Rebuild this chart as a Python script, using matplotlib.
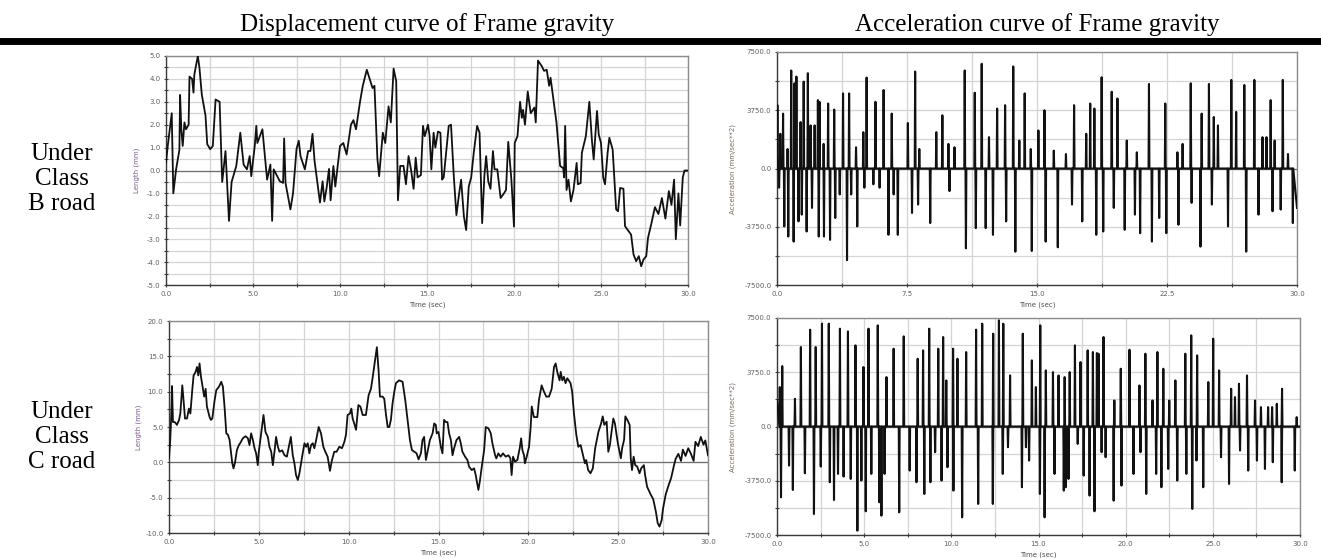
import matplotlib
matplotlib.use("Agg")
import matplotlib.pyplot as plt
from matplotlib.lines import Line2D
from matplotlib.ticker import MultipleLocator, FormatStrFormatter

# ---- data ----
headers = ["Displacement curve of Frame gravity", "Acceleration curve of Frame gravity"]
row_labels = ["Under\nClass\nB road", "Under\nClass\nC road"]

# class B road, displacement (time s, length mm)
disp_b = [(0, 0.34), (0.1, 1.07), (0.33, 2.5), (0.42, -1.0), (0.58, 0.05), (0.77, 0.9), (0.81, 3.3),
          (0.88, 1.8), (0.96, 1.07), (1.06, 2.1), (1.15, 1.8), (1.3, 2.0), (1.35, 4.1), (1.5, 4.0),
          (1.58, 3.4), (1.63, 4.2), (1.83, 5.0), (1.92, 4.5), (2.06, 3.3), (2.27, 2.4), (2.37, 1.15),
          (2.54, 0.93), (2.69, 1.07), (2.85, 3.1), (3.08, 3.0), (3.23, -0.5), (3.42, 0.85), (3.62, -2.2),
          (3.77, -0.5), (4.04, 0.2), (4.27, 1.65), (4.46, 0.26), (4.65, 0.05), (4.81, 0.63), (4.9, -0.25),
          (5.1, 1.07), (5.19, 1.95), (5.25, 1.2), (5.54, 1.8), (5.81, -0.4), (6.0, 0.26), (6.1, -2.2),
          (6.19, 0.05), (6.54, -0.47), (6.73, -0.54), (6.79, 1.4), (6.87, -0.55), (7.15, -1.7),
          (7.3, -1.0), (7.5, 0.93), (7.63, 1.3), (7.73, 0.63), (7.98, 0.05), (8.17, 0.85), (8.3, 0.85),
          (8.42, 1.6), (8.54, 0.4), (8.85, -1.4), (9.0, -0.47), (9.1, -1.35), (9.23, -0.76), (9.37, 0.07),
          (9.46, -1.3), (9.62, 0.2), (9.73, -0.7), (10.0, 1.07), (10.19, 1.2), (10.38, 0.7), (10.63, 2.0),
          (10.77, 2.2), (10.92, 1.8), (11.15, 3.0), (11.31, 3.7), (11.54, 4.4), (11.87, 3.6), (11.98, 3.7),
          (12.15, 0.5), (12.25, -0.25), (12.46, 1.65), (12.6, 1.2), (12.79, 2.8), (12.92, 2.1),
          (13.08, 4.45), (13.23, 3.9), (13.33, -1.3), (13.46, 0.2), (13.65, 0.2), (13.79, -0.6),
          (13.94, 0.63), (14.08, 0.05), (14.23, -0.8), (14.35, 0.56), (14.46, -0.3), (14.65, -0.2),
          (14.77, 1.95), (14.87, 1.5), (15.06, 2.0), (15.15, 1.5), (15.25, 0.05), (15.38, 1.65),
          (15.48, 1.0), (15.63, 1.7), (15.77, 1.65), (15.87, -0.4), (15.96, -0.3), (16.25, 1.95),
          (16.38, 2.0), (16.54, -0.25), (16.69, -1.95), (16.83, -1.1), (16.96, -0.4), (17.12, -2.0),
          (17.25, -2.6), (17.4, -0.7), (17.54, -0.3), (17.69, 0.8), (17.88, 1.95), (18.02, 1.65),
          (18.17, -2.3), (18.3, -0.2), (18.4, 0.63), (18.52, -0.47), (18.65, -0.8), (18.79, 0.85),
          (18.88, 0.05), (19.04, 0.05), (19.23, -1.2), (19.42, -1.0), (19.54, -0.85), (19.67, 1.25),
          (19.85, -0.4), (20.0, -2.45), (20.04, 1.2), (20.2, 1.5), (20.35, 3.0), (20.45, 2.3),
          (20.52, 2.65), (20.63, 2.0), (20.79, 3.45), (20.96, 2.5), (21.17, 2.75), (21.25, 2.1),
          (21.38, 4.8), (21.6, 4.55), (21.73, 4.35), (21.88, 4.4), (22.02, 3.7), (22.1, 4.05),
          (22.44, 2.1), (22.65, 0.2), (22.83, 0.1), (22.88, -0.3), (22.94, 1.95), (23.02, -0.85),
          (23.13, -0.4), (23.27, -1.35), (23.42, -0.85), (23.6, 0.33), (23.67, -0.6), (23.83, -0.55),
          (23.9, 0.77), (24.13, 1.5), (24.33, 3.0), (24.48, 1.3), (24.58, 0.48), (24.77, 2.6),
          (24.87, 1.57), (25.0, 1.2), (25.13, -0.32), (25.23, -0.6), (25.38, 0.77), (25.48, 1.43),
          (25.67, 0.92), (25.87, -1.7), (25.98, -1.78), (26.1, -0.76), (26.29, -0.8), (26.38, -2.43),
          (26.73, -2.8), (26.87, -3.67), (27.02, -3.96), (27.17, -3.74), (27.31, -4.18), (27.44, -3.89),
          (27.6, -3.74), (27.7, -2.95), (27.9, -2.3), (28.1, -1.6), (28.3, -1.9), (28.5, -1.2),
          (28.7, -2.1), (28.9, -0.9), (29.05, -1.5), (29.2, -0.4), (29.3, -3.0), (29.45, -1.0),
          (29.55, -2.4), (29.7, -0.3), (29.8, 0.0), (30.0, 0.0)]

# class C road, displacement
disp_c = [(0, 0.56), (0.07, 3.2), (0.13, 6.9), (0.17, 10.8), (0.22, 5.7), (0.32, 5.7), (0.44, 5.3),
          (0.56, 6.0), (0.63, 6.9), (0.74, 10.9), (0.81, 8.8), (0.89, 6.2), (1.0, 6.2), (1.11, 7.6),
          (1.19, 6.9), (1.3, 10.4), (1.37, 12.3), (1.48, 12.8), (1.56, 13.5), (1.63, 12.3), (1.7, 14.0),
          (1.78, 12.1), (1.89, 10.4), (1.96, 9.3), (2.04, 10.4), (2.11, 7.9), (2.26, 6.4), (2.33, 6.0),
          (2.41, 6.2), (2.54, 8.8), (2.63, 10.2), (2.78, 10.7), (2.91, 11.4), (3.0, 10.7), (3.09, 7.9),
          (3.19, 4.1), (3.28, 3.9), (3.37, 3.2), (3.52, -0.1), (3.59, -0.85), (3.67, -0.1), (3.78, 1.74),
          (3.89, 2.45), (3.96, 2.7), (4.11, 3.4), (4.26, 3.7), (4.39, 3.4), (4.48, 2.45), (4.57, 4.1),
          (4.67, 3.15), (4.76, 2.0), (4.85, 1.27), (4.94, -0.4), (5.0, 1.5), (5.13, 4.1), (5.26, 6.7),
          (5.37, 4.3), (5.5, 3.6), (5.59, 2.2), (5.69, 1.5), (5.78, -0.4), (5.87, 1.5), (5.96, 3.6),
          (6.06, 2.2), (6.15, 1.5), (6.3, 1.7), (6.43, 1.0), (6.56, 0.8), (6.67, 2.2), (6.78, 3.6),
          (6.89, 1.0), (6.98, -0.14), (7.07, -1.8), (7.17, -2.5), (7.26, -1.55), (7.41, 0.8),
          (7.54, 2.7), (7.63, 2.2), (7.72, 2.7), (7.81, 1.27), (7.91, 2.45), (8.0, 2.7), (8.09, 2.0),
          (8.19, 3.15), (8.33, 5.0), (8.46, 4.1), (8.59, 2.2), (8.7, 1.5), (8.83, 0.8), (8.96, -1.2),
          (9.07, 0.33), (9.2, 1.5), (9.33, 1.5), (9.48, 2.2), (9.63, 2.0), (9.76, 2.9), (9.85, 3.9),
          (9.94, 6.7), (10.07, 6.9), (10.15, 7.6), (10.22, 6.2), (10.31, 5.5), (10.41, 4.6),
          (10.54, 8.1), (10.65, 7.9), (10.78, 6.7), (10.96, 6.7), (11.11, 9.5), (11.24, 10.4),
          (11.33, 11.9), (11.48, 14.7), (11.57, 16.3), (11.67, 12.8), (11.74, 9.3), (11.89, 9.3),
          (11.98, 9.0), (12.07, 6.9), (12.17, 5.0), (12.26, 5.0), (12.35, 6.0), (12.44, 8.3),
          (12.54, 10.0), (12.63, 11.2), (12.72, 11.4), (12.81, 11.6), (13.0, 11.4), (13.15, 8.8),
          (13.28, 6.0), (13.41, 3.15), (13.52, 1.74), (13.65, 1.5), (13.78, 1.27), (13.89, 0.42),
          (14.02, 1.27), (14.11, 3.15), (14.2, 3.6), (14.3, 0.33), (14.39, 1.5), (14.52, 3.15),
          (14.67, 4.1), (14.76, 5.5), (14.85, 5.3), (14.9, 4.1), (15.0, 4.3), (15.13, 2.2),
          (15.22, 1.27), (15.31, 6.0), (15.41, 5.7), (15.5, 5.7), (15.59, 4.1), (15.69, 3.15),
          (15.78, 1.0), (15.87, 2.0), (16.0, 3.15), (16.15, 3.6), (16.24, 2.7), (16.33, 1.5),
          (16.48, 0.8), (16.61, 0.33), (16.7, -0.6), (16.85, -1.1), (16.98, -0.85), (17.07, -1.8),
          (17.17, -3.2), (17.22, -3.9), (17.3, -2.7), (17.41, -0.6), (17.54, 1.74), (17.63, 5.0),
          (17.78, 4.8), (17.91, 4.1), (18.0, 2.7), (18.15, 1.0), (18.22, 0.56), (18.33, 1.27),
          (18.46, 0.8), (18.59, 1.27), (18.74, 0.8), (18.89, 1.0), (19.0, 0.56), (19.07, -1.8),
          (19.15, 0.8), (19.26, 0.1), (19.39, 0.33), (19.52, 2.0), (19.6, 3.4), (19.67, 1.74),
          (19.76, 1.0), (19.81, -0.14), (19.91, 0.8), (20.04, 2.2), (20.13, 5.0), (20.19, 7.9),
          (20.31, 6.4), (20.5, 6.4), (20.59, 8.8), (20.74, 10.9), (20.87, 10.0), (21.0, 9.3),
          (21.15, 9.3), (21.3, 10.4), (21.43, 13.5), (21.52, 14.0), (21.61, 12.8), (21.74, 11.6),
          (21.8, 12.8), (21.89, 11.6), (21.98, 12.1), (22.07, 11.2), (22.17, 11.9), (22.35, 11.2),
          (22.44, 10.0), (22.54, 6.9), (22.67, 3.9), (22.78, 2.2), (22.91, 2.45), (23.0, 1.5),
          (23.15, -0.14), (23.22, 0.33), (23.33, -1.1), (23.46, -1.55), (23.59, -0.85), (23.72, 2.0),
          (23.9, 4.3), (24.05, 5.5), (24.14, 6.5), (24.23, 5.3), (24.36, 5.75), (24.45, 1.5),
          (24.54, 2.45), (24.63, 4.3), (24.73, 6.2), (24.82, 5.5), (24.91, 3.9), (25.0, 2.45),
          (25.15, 0.57), (25.22, 2.0), (25.33, 3.2), (25.4, 6.5), (25.51, 6.0), (25.64, 5.3),
          (25.7, 0.57), (25.77, -1.1), (25.86, 0.8), (25.95, -0.4), (26.06, -0.6), (26.19, -1.55),
          (26.28, -0.85), (26.43, -0.4), (26.5, -1.8), (26.61, -3.45), (26.8, -4.5), (26.95, -5.2),
          (27.1, -7.0), (27.2, -8.6), (27.3, -9.1), (27.42, -8.2), (27.5, -6.5), (27.65, -4.5),
          (27.8, -3.3), (27.95, -2.2), (28.1, -0.5), (28.2, 0.5), (28.35, 1.2), (28.5, 0.2),
          (28.6, 1.8), (28.75, 0.9), (28.9, 2.0), (29.05, 1.2), (29.2, 0.2), (29.3, 2.9),
          (29.45, 2.3), (29.6, 3.6), (29.75, 2.5), (29.85, 3.1), (30.0, 1.0)]

# class B road, acceleration spikes (time s, peak mm/sec^2)
acc_b_start = 4000
acc_b_up = [(0.02, 4076), (0.19, 2233), (0.35, 3534), (0.61, 1257), (0.82, 6309), (1.01, 5485),
            (1.12, 5919), (1.36, 2991), (1.54, 5593), (1.78, 6135), (1.94, 2775), (2.17, 2775),
            (2.36, 4401), (2.45, 4293), (2.69, 1583), (2.95, 4184), (3.30, 3794), (3.81, 4835),
            (4.16, 4835), (4.56, 1366), (4.98, 2341), (5.17, 5854), (5.68, 4293), (6.15, 5051),
            (6.62, 3534), (7.55, 2927), (7.97, 6244), (8.21, 1257), (9.19, 2341), (9.54, 3425),
            (9.89, 1583), (10.24, 1366), (10.83, 6309), (11.41, 4878), (11.81, 6742), (12.23, 2016),
            (12.70, 3859), (13.16, 4076), (13.63, 6569), (13.98, 1799), (14.29, 4835), (14.64, 1257),
            (15.08, 2450), (15.43, 3751), (15.97, 1149), (16.67, 932), (17.14, 4076), (17.84, 2233),
            (18.07, 4184), (18.31, 3859), (18.73, 5875), (19.31, 4943), (19.64, 4509), (20.18, 1799),
            (20.76, 1041), (21.46, 5442), (22.40, 4184), (23.10, 1041), (23.40, 1583), (23.87, 5485),
            (24.50, 3534), (24.92, 5442), (25.20, 3317), (25.44, 2775), (26.21, 5702), (26.49, 3642),
            (26.96, 5377), (27.54, 5702), (28.01, 2016), (28.24, 2016), (28.48, 4401), (28.71, 1799),
            (29.18, 5702), (29.48, 932)]
acc_b_down = [(0.12, -1236), (0.42, -3729), (0.65, -4380), (0.96, -4705), (1.24, -3404), (1.43, -2970),
              (1.71, -4054), (2.02, -2537), (2.41, -4380), (2.71, -4380), (3.06, -4596), (3.36, -3187),
              (3.62, -1669), (4.04, -5897), (4.28, -1669), (4.63, -3729), (5.04, -1236), (5.56, -1019),
              (5.92, -1236), (6.43, -4271), (6.73, -1669), (6.97, -4271), (7.79, -2862), (8.14, -2320),
              (8.84, -3512), (9.95, -1453), (10.90, -5138), (11.47, -3838), (12.04, -3838),
              (12.46, -4271), (13.22, -3404), (13.75, -5355), (14.70, -5311), (15.50, -4705),
              (16.20, -5073), (17.02, -2320), (17.61, -3404), (18.42, -4271), (18.82, -4054),
              (19.43, -2537), (20.06, -3946), (20.65, -2970), (20.95, -4163), (21.63, -4705),
              (22.05, -3187), (22.46, -4163), (23.16, -3620), (23.92, -2211), (24.43, -5030),
              (25.09, -2320), (26.02, -3729), (27.07, -5355), (27.78, -2970), (28.59, -2753),
              (29.06, -2645), (29.76, -3512)]
acc_b_end = -2537

# class C road, acceleration spikes
acc_c_start = 1800
acc_c_up = [(0.16, 2723), (0.30, 4177), (1.03, 1916), (1.37, 5493), (1.90, 6693), (2.22, 5493),
            (2.58, 7108), (2.97, 7108), (3.61, 6762), (4.07, 6578), (4.50, 5608), (4.96, 4108),
            (5.25, 6762), (5.78, 6992), (6.28, 3416), (6.69, 5378), (7.27, 6232), (8.07, 4685),
            (8.38, 5262), (8.73, 6762), (9.25, 5378), (9.53, 6185), (9.71, 3185), (10.10, 5378),
            (10.35, 4685), (10.85, 5147), (11.42, 6693), (11.77, 7108), (12.40, 6416), (12.73, 7339),
            (12.98, 7108), (13.37, 3531), (14.10, 6416), (14.62, 4570), (14.85, 2723), (15.10, 6993),
            (15.42, 3877), (15.83, 3762), (16.15, 3531), (16.50, 3416), (16.79, 3762), (17.09, 5608),
            (17.41, 4454), (17.82, 5262), (18.12, 5147), (18.35, 5077), (18.44, 5031), (18.73, 6185),
            (19.35, 1800), (19.72, 3993), (20.22, 5308), (20.79, 2839), (21.13, 5031), (21.54, 1800),
            (21.82, 5147), (22.16, 3993), (22.50, 1800), (22.85, 3185), (23.42, 5031), (23.76, 6300),
            (24.10, 4916), (24.74, 3070), (25.02, 6070), (25.36, 3877), (26.05, 2608), (26.27, 2031),
            (26.50, 2954), (26.96, 3531), (27.42, 1800), (27.76, 1339), (28.17, 1339), (28.40, 1339),
            (28.67, 1569), (28.97, 2608), (29.81, 646)]
acc_c_down = [(0.23, -4893), (0.69, -2700), (0.91, -4385), (1.60, -3231), (2.12, -6047), (2.51, -2770),
              (3.03, -3854), (3.27, -5078), (3.50, -3277), (3.82, -3462), (4.23, -3624), (4.61, -7201),
              (4.84, -3739), (5.09, -5862), (5.41, -3277), (5.87, -5239), (5.99, -6162), (6.17, -3277),
              (7.01, -5931), (7.61, -3046), (8.00, -3854), (8.45, -4662), (8.80, -3854), (9.07, -1777),
              (9.44, -3739), (9.78, -2816), (10.12, -4431), (10.62, -6278), (11.54, -5354),
              (12.38, -5354), (12.95, -3277), (13.25, -1431), (14.05, -4200), (14.28, -1431),
              (14.46, -2354), (15.08, -4662), (15.35, -6278), (15.92, -3277), (16.45, -4431),
              (16.56, -4200), (16.72, -3624), (17.25, -1200), (17.59, -3393), (17.93, -4777),
              (18.21, -5862), (18.62, -1777), (18.85, -2123), (19.31, -5123), (19.76, -4085),
              (20.45, -3277), (20.85, -1777), (21.18, -4662), (21.75, -3277), (22.05, -4200),
              (22.44, -2931), (22.96, -3739), (23.48, -3277), (23.82, -5700), (24.06, -2354),
              (24.45, -4200), (25.47, -2123), (25.93, -3970), (26.56, -1662), (27.03, -3046),
              (27.53, -2354), (27.99, -2931), (28.44, -2470), (28.95, -3854), (29.70, -3046)]
acc_c_end = 0


def spike_line(start, ups, downs, end, half=0.025):
    xs, ys = [0.0], [start]
    for t, a in sorted(ups + downs):
        xs += [max(t - half, 0), t, t + half]
        ys += [0, a, 0]
    xs.append(30.0)
    ys.append(end)
    return xs, ys


W, H = 1321, 558
fig = plt.figure(figsize=(W / 100, H / 100), dpi=100)


def box(x0, y0, x1, y1):
    return [x0 / W, 1 - y1 / H, (x1 - x0) / W, (y1 - y0) / H]


tick_col = "#606060"


def style(ax, ylim, ymajor, yminor, xmajor, xminor, ylabel, ylab_col, ylab_x):
    ax.set_xlim(0, 30)
    ax.set_ylim(*ylim)
    ax.xaxis.set_major_locator(MultipleLocator(xmajor))
    ax.xaxis.set_minor_locator(MultipleLocator(xminor))
    ax.yaxis.set_major_locator(MultipleLocator(ymajor))
    ax.yaxis.set_minor_locator(MultipleLocator(yminor))
    ax.xaxis.set_major_formatter(FormatStrFormatter("%.1f"))
    ax.yaxis.set_major_formatter(FormatStrFormatter("%.1f"))
    ax.grid(True, which="both", color="#d4d4d4", lw=0.9)
    ax.set_axisbelow(True)
    ax.axhline(0, color="#6e6e6e", lw=0.9, zorder=1)
    ax.tick_params(which="both", direction="inout", length=3, width=0.8, color="#404040",
                   labelsize=5, labelcolor=tick_col, pad=2.5)
    for s in ["left", "bottom"]:
        ax.spines[s].set_color("#3a3a3a")
        ax.spines[s].set_linewidth(1.0)
    for s in ["top", "right"]:
        ax.spines[s].set_color("#8c8c8c")
        ax.spines[s].set_linewidth(1.0)
    ax.set_xlabel("Time (sec)", fontsize=5, color="#505050", labelpad=3.5)
    ax.set_ylabel(ylabel, fontsize=5, color=ylab_col)
    ax.yaxis.set_label_coords(ylab_x, 0.5)


# top-left: displacement, class B
ax1 = fig.add_axes(box(166, 56, 688, 285))
ax1.plot([p[0] for p in disp_b], [p[1] for p in disp_b], color="#111111", lw=1.3, zorder=3)
style(ax1, (-5, 5), 1, 0.5, 5, 2.5, "Length (mm)", "#7d5a8c", -0.05)

# bottom-left: displacement, class C
ax3 = fig.add_axes(box(169, 321, 708, 533))
ax3.plot([p[0] for p in disp_c], [p[1] for p in disp_c], color="#111111", lw=1.3, zorder=3)
style(ax3, (-10, 20), 5, 2.5, 5, 2.5, "Length (mm)", "#7d5a8c", -0.05)

# top-right: acceleration, class B
ax2 = fig.add_axes(box(777, 52, 1297, 285))
x, y = spike_line(acc_b_start, acc_b_up, acc_b_down, acc_b_end)
ax2.plot(x, y, color="#111111", lw=1.5, zorder=3)
style(ax2, (-7500, 7500), 3750, 1875, 7.5, 3.75, "Acceleration (mm/sec**2)", "#7a6a5e", -0.078)

# bottom-right: acceleration, class C
ax4 = fig.add_axes(box(777, 318, 1300, 535))
x, y = spike_line(acc_c_start, acc_c_up, acc_c_down, acc_c_end)
ax4.plot(x, y, color="#111111", lw=1.5, zorder=3)
style(ax4, (-7500, 7500), 3750, 1875, 5, 2.5, "Acceleration (mm/sec**2)", "#7a6a5e", -0.078)

# table header and rule
serif = ["Liberation Serif", "DejaVu Serif"]
fig.text(427 / W, 1 - 30.5 / H, headers[0], ha="center", va="baseline", fontsize=18, family=serif)
fig.text(1037 / W, 1 - 30.5 / H, headers[1], ha="center", va="baseline", fontsize=18, family=serif)
fig.add_artist(Line2D([0, 1], [1 - 40.5 / H, 1 - 40.5 / H], color="black", lw=5))

# row labels
fig.text(62 / W, 1 - 179 / H, row_labels[0], ha="center", va="center", fontsize=18,
         family=serif, linespacing=1.2)
fig.text(62 / W, 1 - 437 / H, row_labels[1], ha="center", va="center", fontsize=18,
         family=serif, linespacing=1.2)

fig.savefig("out.png", dpi=100)
